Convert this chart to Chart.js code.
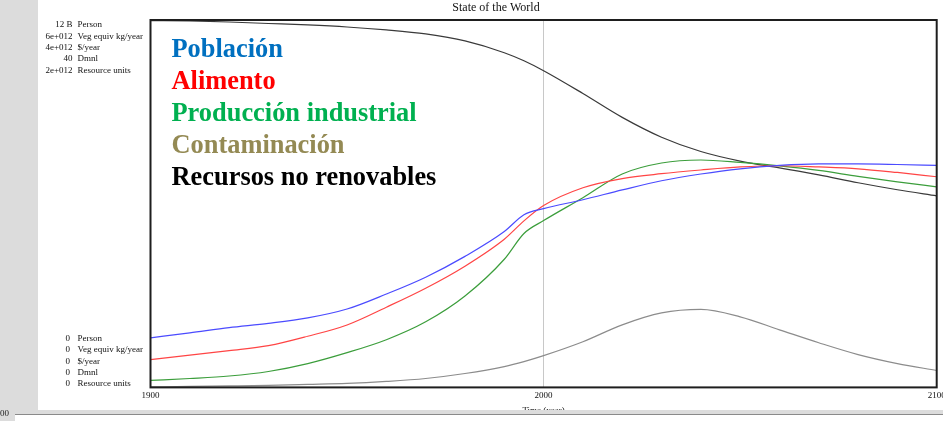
<!DOCTYPE html>
<html>
<head>
<meta charset="utf-8">
<script src="https://cdn.jsdelivr.net/npm/chart.js@4/dist/chart.umd.min.js"></script>
<style>
html,body{margin:0;padding:0;background:#fff;}
#wrap{width:943px;height:421px;position:relative;}
</style>
</head>
<body>
<div id="wrap"><canvas id="c" width="943" height="421"></canvas></div>
<script>
// ---- data ----
const years = [1900,1910,1920,1930,1940,1950,1960,1970,1980,1990,1995,2000,2010,2020,2030,2040,2050,2060,2070,2080,2090,2100];
// Población (billion persons)
const population = [1.62,1.78,1.95,2.09,2.27,2.56,3.05,3.60,4.28,5.09,5.64,5.84,6.13,6.45,6.75,6.97,7.14,7.25,7.30,7.30,7.28,7.25];
// Alimento (1e12 veg equiv kg/year)
const food = [0.454,0.527,0.600,0.681,0.835,1.02,1.31,1.62,1.98,2.42,2.72,2.97,3.26,3.41,3.49,3.55,3.60,3.62,3.60,3.57,3.51,3.44];
// Producción industrial (1e12 $/year)
const industry = [0.076,0.097,0.124,0.173,0.259,0.378,0.519,0.714,0.995,1.395,1.676,1.816,2.065,2.324,2.443,2.476,2.449,2.411,2.362,2.297,2.238,2.184];
// Contaminación (Dmnl)
const pollution = [0.05,0.11,0.16,0.22,0.32,0.43,0.65,0.97,1.51,2.27,2.81,3.46,4.97,6.81,8.11,8.49,7.68,6.27,4.86,3.57,2.59,1.84];
// Recursos no renovables (1e12 resource units)
const resources = [1.997,1.995,1.989,1.981,1.973,1.962,1.946,1.924,1.886,1.822,1.778,1.724,1.600,1.470,1.362,1.284,1.232,1.195,1.157,1.114,1.076,1.043];

const seriesLabels = ['Población','Alimento','Producción industrial','Contaminación','Recursos no renovables'];
const axisMax = [12, 6, 4, 40, 2];
const axisTopLabels = ['12 B','6e+012','4e+012','40','2e+012'];
const axisBottomLabels = ['0','0','0','0','0'];
const axisUnits = ['Person','Veg equiv kg/year','$/year','Dmnl','Resource units'];
const xTicks = [1900, 2000, 2100];
const chartTitle = 'State of the World';
const xTitle = 'Time (year)';

// ---- styles ----
const lineColors = ['#4b4bff','#ff4545','#3c9e3c','#8c8c8c','#3a3a3a'];
const legendColors = ['#0070C0','#FF0000','#00B050','#948A54','#000000'];
const axisIds = ['yPop','yFood','yInd','yPol','yRes'];
const allSeries = [population, food, industry, pollution, resources];
const serif = '"Liberation Serif", "Times New Roman", serif';

const datasets = allSeries.map((arr, i) => ({
  label: seriesLabels[i],
  data: years.map((yr, k) => ({x: yr, y: arr[k]})),
  borderColor: lineColors[i],
  backgroundColor: lineColors[i],
  borderWidth: 1.2,
  pointRadius: 0,
  cubicInterpolationMode: 'monotone',
  yAxisID: axisIds[i],
  fill: false
}));

const scales = {
  x: {
    type: 'linear', min: xTicks[0], max: xTicks[xTicks.length-1],
    afterBuildTicks: s => { s.ticks = xTicks.map(v => ({value: v})); },
    afterFit: s => { s.paddingLeft = 0; s.paddingRight = 0; },
    grid: {
      drawTicks: false,
      color: c => (c.tick && c.tick.value === 2000) ? '#c8c8c8' : 'rgba(0,0,0,0)',
      lineWidth: 1
    },
    border: {display: false},
    ticks: {
      padding: 3, color: '#111', maxRotation: 0, autoSkip: false,
      font: {family: serif, size: 9},
      callback: v => String(v)
    },
    title: {display: true, text: xTitle, color: '#111', font: {family: serif, size: 9}, padding: {top: 1, bottom: 0}}
  }
};
axisIds.forEach((id, i) => {
  scales[id] = {type: 'linear', display: false, min: 0, max: axisMax[i]};
});

const decor = {
  id: 'decor',
  beforeDraw(chart) {
    const ctx = chart.ctx;
    ctx.save();
    ctx.fillStyle = '#ffffff';
    ctx.fillRect(0, 0, 943, 421);
    ctx.restore();
  },
  afterDraw(chart) {
    const ctx = chart.ctx;
    const a = chart.chartArea;
    ctx.save();
    // frame
    ctx.strokeStyle = '#1e1e1e';
    ctx.lineWidth = 2;
    ctx.strokeRect(a.left, a.top, a.right - a.left, a.bottom - a.top);
    // bottom gray band and left gray strip
    ctx.fillStyle = '#dcdcdc';
    ctx.fillRect(0, 410, 943, 4);
    ctx.fillRect(0, 0, 38, 421);
    ctx.fillStyle = '#ffffff';
    ctx.fillRect(15, 415, 928, 6);
    ctx.strokeStyle = '#8a8a8a';
    ctx.lineWidth = 1;
    ctx.beginPath(); ctx.moveTo(15, 414.5); ctx.lineTo(943, 414.5); ctx.stroke();
    ctx.fillStyle = '#222';
    ctx.font = '9px ' + serif;
    ctx.textBaseline = 'middle';
    ctx.textAlign = 'left';
    ctx.fillText('00', 0, 414);
    // title
    ctx.font = '12px ' + serif;
    ctx.textAlign = 'center';
    ctx.fillStyle = '#111';
    ctx.fillText(chartTitle, 496, 7.5);
    // axis labels (top and bottom)
    ctx.font = '9px ' + serif;
    for (let i = 0; i < axisUnits.length; i++) {
      const yt = 25 + i * 11.33;
      const yb = 338.7 + i * 11.33;
      ctx.textAlign = 'right';
      ctx.fillText(axisTopLabels[i], 72.5, yt);
      ctx.fillText(axisBottomLabels[i], 70, yb);
      ctx.textAlign = 'left';
      ctx.fillText(axisUnits[i], 77.5, yt);
      ctx.fillText(axisUnits[i], 77.5, yb);
    }
    // legend
    ctx.font = 'bold 26.4px ' + serif;
    ctx.textAlign = 'left';
    ctx.textBaseline = 'alphabetic';
    for (let i = 0; i < seriesLabels.length; i++) {
      ctx.fillStyle = legendColors[i];
      ctx.fillText(seriesLabels[i], 171.5, 56.5 + i * 32);
    }
    ctx.restore();
  }
};

new Chart(document.getElementById('c'), {
  type: 'line',
  data: {datasets},
  options: {
    responsive: false,
    animation: false,
    events: [],
    layout: {padding: {left: 150.5, right: 6.3, top: 20, bottom: 5}},
    plugins: {legend: {display: false}, title: {display: false}, tooltip: {enabled: false}},
    scales
  },
  plugins: [decor]
});
</script>
</body>
</html>
